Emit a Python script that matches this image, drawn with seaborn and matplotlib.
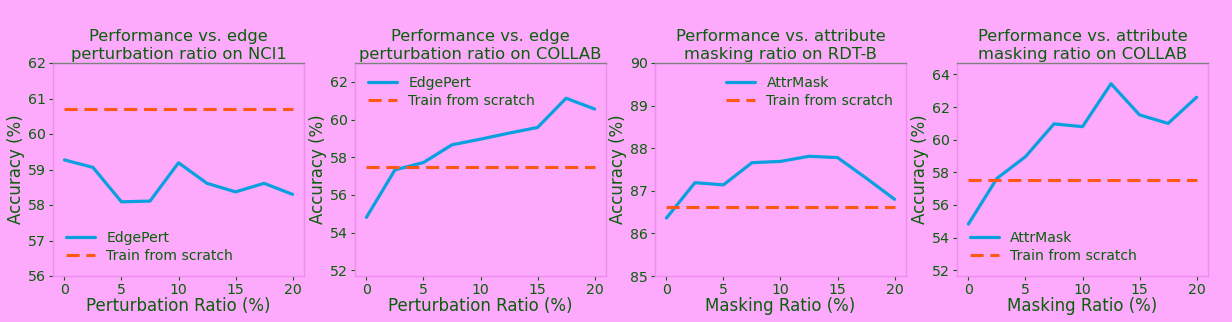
import numpy as np
import pandas as pd
import matplotlib
matplotlib.use("Agg")
import matplotlib.pyplot as plt
import seaborn as sns

ratios = [0, 2.5, 5, 7.5, 10, 12.5, 15, 17.5, 20]

nci1_edge = [59.27, 59.06, 58.09, 58.11, 59.19, 58.61, 58.37, 58.61, 58.30]
nci1_scratch = 60.71
collab_edge = [54.81, 57.33, 57.72, 58.66, 58.96, 59.28, 59.58, 61.13, 60.56]
collab_scratch = 57.47
rdtb_mask = [86.36, 87.19, 87.14, 87.66, 87.69, 87.81, 87.78, 87.30, 86.80]
rdtb_scratch = 86.63
collab_mask = [54.83, 57.63, 58.96, 60.97, 60.80, 63.43, 61.52, 61.00, 62.60]
collab_mask_scratch = 57.53

titles = ["Performance vs. edge\nperturbation ratio on NCI1",
          "Performance vs. edge\nperturbation ratio on COLLAB",
          "Performance vs. attribute\nmasking ratio on RDT-B",
          "Performance vs. attribute\nmasking ratio on COLLAB"]
xlabels = ["Perturbation Ratio (%)", "Perturbation Ratio (%)",
           "Masking Ratio (%)", "Masking Ratio (%)"]
methods = ["EdgePert", "EdgePert", "AttrMask", "AttrMask"]
series = [nci1_edge, collab_edge, rdtb_mask, collab_mask]
scratch = [nci1_scratch, collab_scratch, rdtb_scratch, collab_mask_scratch]
ylims = [(56, 62), (51.7, 63.0), (85, 90), (51.65, 64.7)]
yticks = [[56, 57, 58, 59, 60, 61, 62], [52, 54, 56, 58, 60, 62],
          [85, 86, 87, 88, 89, 90], [52, 54, 56, 58, 60, 62, 64]]
legend_locs = ["lower left", "upper left", "upper right", "lower left"]

BG = "#fdaafc"
TXT = "#0a5f0a"
BLUE = "#0aa0e0"
ORANGE = "#ff5714"

sns.set_theme(style="white")
plt.rcParams["font.family"] = ["DejaVu Sans"]

fig = plt.figure(figsize=(12.32, 3.22), dpi=100, facecolor=BG)
lefts = [53, 355, 655, 957]
width = 251
bottom_px, top_px = 276, 63
axes = []
for l in lefts:
    ax = fig.add_axes([l / 1232, 1 - bottom_px / 322, width / 1232, (bottom_px - top_px) / 322])
    axes.append(ax)

for i, ax in enumerate(axes):
    ax.set_facecolor(BG)
    df = pd.DataFrame({"ratio": ratios, "acc": series[i]})
    sns.lineplot(data=df, x="ratio", y="acc", ax=ax, color=BLUE, linewidth=2.3,
                 label=methods[i])
    dfs = pd.DataFrame({"ratio": ratios, "acc": [scratch[i]] * len(ratios)})
    sns.lineplot(data=dfs, x="ratio", y="acc", ax=ax, color=ORANGE, linewidth=2.2,
                 linestyle=(0, (4.3, 2.2)), label="Train from scratch")
    ax.set_ylim(*ylims[i])
    ax.set_yticks(yticks[i])
    ax.set_xlim(-1, 21)
    ax.set_xticks([0, 5, 10, 15, 20])
    ax.set_title(titles[i], color=TXT, fontsize=11.8, pad=3, linespacing=1.25)
    ax.set_xlabel(xlabels[i], color=TXT, fontsize=12, labelpad=0)
    ax.set_ylabel("Accuracy (%)", color=TXT, fontsize=12, labelpad=2)
    ax.tick_params(axis="both", colors=TXT, labelsize=10.2, length=3, width=0.8,
                   left=True, bottom=True, pad=2)
    for side in ["left", "bottom", "right"]:
        ax.spines[side].set_color("#f08cf0")
        ax.spines[side].set_linewidth(1.0)
    ax.spines["top"].set_color("#808080")
    ax.spines["top"].set_linewidth(1.0)
    leg = ax.legend(loc=legend_locs[i], frameon=False, fontsize=10.1,
                    handlelength=2.1, labelspacing=0.33)
    for t in leg.get_texts():
        t.set_color(TXT)

fig.savefig("out.png", dpi=100, facecolor=BG)
